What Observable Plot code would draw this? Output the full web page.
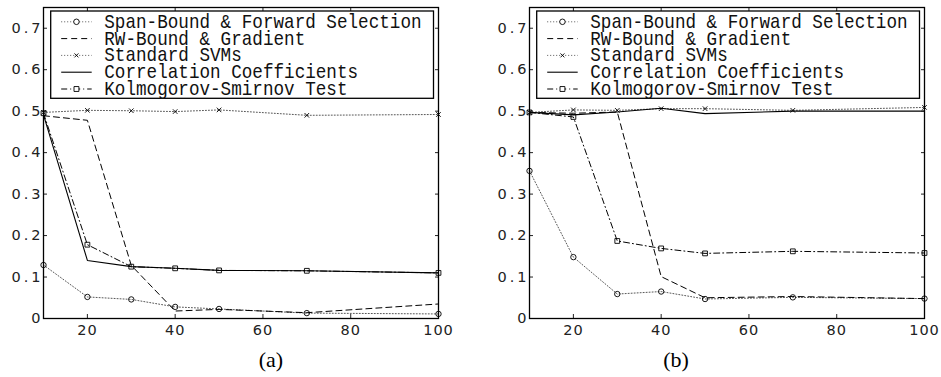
<!DOCTYPE html>
<html><head><meta charset="utf-8">
<script src="https://cdn.jsdelivr.net/npm/d3@7"></script>
<script src="https://cdn.jsdelivr.net/npm/@observablehq/plot@0.6"></script>
<style>
body{margin:0;background:#fff;}
#wrap{position:relative;width:941px;height:377px;overflow:hidden;background:#fff;}
#wrap > svg{position:absolute;top:0;}
</style></head><body><div id="wrap"></div>
<script>
// ---------- data ----------
const xValues = [10, 20, 30, 40, 50, 70, 100];
const seriesNames = ["Span-Bound & Forward Selection", "RW-Bound & Gradient", "Standard SVMs", "Correlation Coefficients", "Kolmogorov-Smirnov Test"];
const panelLabels = ["(a)", "(b)"];
const yTickValues = [0, 0.1, 0.2, 0.3, 0.4, 0.5, 0.6, 0.7];
const xTickValues = [20, 40, 60, 80, 100];

// panel (a)
const aSpan = [0.129, 0.052, 0.046, 0.028, 0.023, 0.013, 0.011];
const aRW   = [0.489, 0.478, 0.128, 0.018, 0.022, 0.014, 0.035];
const aSVM  = [0.497, 0.502, 0.501, 0.499, 0.503, 0.490, 0.492];
const aCorr = [0.491, 0.140, 0.125, 0.121, 0.116, 0.115, 0.110];
const aKS   = [0.495, 0.178, 0.125, 0.121, 0.116, 0.115, 0.110];
// panel (b)
const bSpan = [0.356, 0.148, 0.059, 0.065, 0.047, 0.051, 0.048];
const bRW   = [0.497, 0.495, 0.498, 0.101, 0.050, 0.053, 0.048];
const bSVM  = [0.497, 0.503, 0.502, 0.506, 0.506, 0.502, 0.509];
const bCorr = [0.497, 0.491, 0.498, 0.507, 0.494, 0.500, 0.500];
const bKS   = [0.497, 0.486, 0.187, 0.169, 0.157, 0.162, 0.158];

// ---------- styles ----------
const styles = [
  {dash: "1,2", stroke: "#444", width: 0.9, symbol: "circle"},
  {dash: "6,4", stroke: "#000", width: 1, symbol: null},
  {dash: "1,2", stroke: "#444", width: 0.9, symbol: "times"},
  {dash: null, stroke: "#000", width: 1.1, symbol: null},
  {dash: "6,3,1,3", stroke: "#000", width: 1, symbol: "square"}
];

const wrap = document.getElementById("wrap");
const ML = 43, MR = 16, MT = 7, MB = 27, PW = 395, H = 345;
const panelLefts = [0, 486];

function makePanel(series, left) {
  const marks = [];
  series.forEach((vals, i) => {
    const rows = xValues.map((x, j) => ({x, y: vals[j]}));
    const st = styles[i];
    marks.push(Plot.line(rows, {x: d => d.x, y: d => d.y, stroke: st.stroke, strokeWidth: st.width, strokeDasharray: st.dash}));
    if (st.symbol) marks.push(Plot.dot(rows, {x: d => d.x, y: d => d.y, symbol: st.symbol, r: st.symbol === "times" ? 2.2 : 2.7, stroke: "#000", fill: "none", strokeWidth: 0.9}));
  });
  const svg = Plot.plot({
    width: ML + PW + MR, height: H,
    marginLeft: ML, marginRight: MR, marginTop: MT, marginBottom: MB,
    x: {domain: [10, 100]},
    y: {domain: [0, 0.75]},
    style: {fontFamily: "DejaVu Sans", fontSize: "14.5px", letterSpacing: "1px", color: "#222", background: "transparent"},
    marks: [
      ...marks,
      Plot.axisY({ticks: yTickValues, tickSize: -4, tickPadding: 4, label: null, tickFormat: d => d === 0 ? "0" : d3.format(".1f")(d)}),
      Plot.axisY({ticks: yTickValues, anchor: "right", tickSize: -4, label: null, tickFormat: () => ""}),
      Plot.axisX({ticks: xTickValues, tickSize: -4, tickPadding: 10, label: null}),
      Plot.axisX({ticks: xTickValues.slice(0, 4), anchor: "top", tickSize: -4, label: null, tickFormat: () => ""}),
      Plot.frame({stroke: "#000", strokeWidth: 1.3})
    ]
  });
  svg.querySelectorAll('[aria-label="y-axis tick label"]').forEach(g => g.style.letterSpacing = "3px");
  svg.style.left = left + "px";
  wrap.appendChild(svg);
}

makePanel([aSpan, aRW, aSVM, aCorr, aKS], panelLefts[0]);
makePanel([bSpan, bRW, bSVM, bCorr, bKS], panelLefts[1]);

// ---------- legends & captions (overlay) ----------
const ov = d3.select(wrap).append("svg").attr("width", 941).attr("height", 377).style("left", "0px");
const symMap = {circle: d3.symbolCircle, times: d3.symbolTimes, square: d3.symbolSquare};
panelLefts.forEach((pl, p) => {
  const fl = pl + ML, fr = fl + PW;
  const bx0 = fl + 7.7, bx1 = fr - 4.5, by0 = 11, by1 = 98.3;
  ov.append("rect").attr("x", bx0).attr("y", by0).attr("width", bx1 - bx0).attr("height", by1 - by0)
    .attr("fill", "#fff").attr("stroke", "#000").attr("stroke-width", 1.3);
  seriesNames.forEach((name, i) => {
    const cy = 21.8 + i * 16.8;
    const st = styles[i];
    const lx0 = bx0 + 10.5, lx1 = bx0 + 41;
    ov.append("line").attr("x1", lx0).attr("x2", lx1).attr("y1", cy).attr("y2", cy)
      .attr("stroke", st.stroke).attr("stroke-width", st.width).attr("stroke-dasharray", st.dash);
    if (st.symbol) {
      const size = st.symbol === "times" ? 12 : 24;
      ov.append("path").attr("d", d3.symbol(symMap[st.symbol], size)()).attr("transform", `translate(${(lx0 + lx1) / 2},${cy})`)
        .attr("fill", st.symbol === "times" ? "none" : "#fff").attr("stroke", "#000").attr("stroke-width", 0.9);
    }
    const tx = bx0 + 53.6;
    ov.append("text").attr("x", 0).attr("y", 0)
      .attr("transform", `translate(${tx},${cy + 5.9}) scale(0.86,1)`).text(name)
      .attr("font-family", "Liberation Mono").attr("font-size", "20.5px").attr("fill", "#111");
  });
  ov.append("text").attr("x", p === 0 ? 271 : 676).attr("y", 367).attr("text-anchor", "middle")
    .attr("font-family", "Liberation Serif").attr("font-size", "22px").attr("fill", "#000").text(panelLabels[p]);
});
</script></body></html>
